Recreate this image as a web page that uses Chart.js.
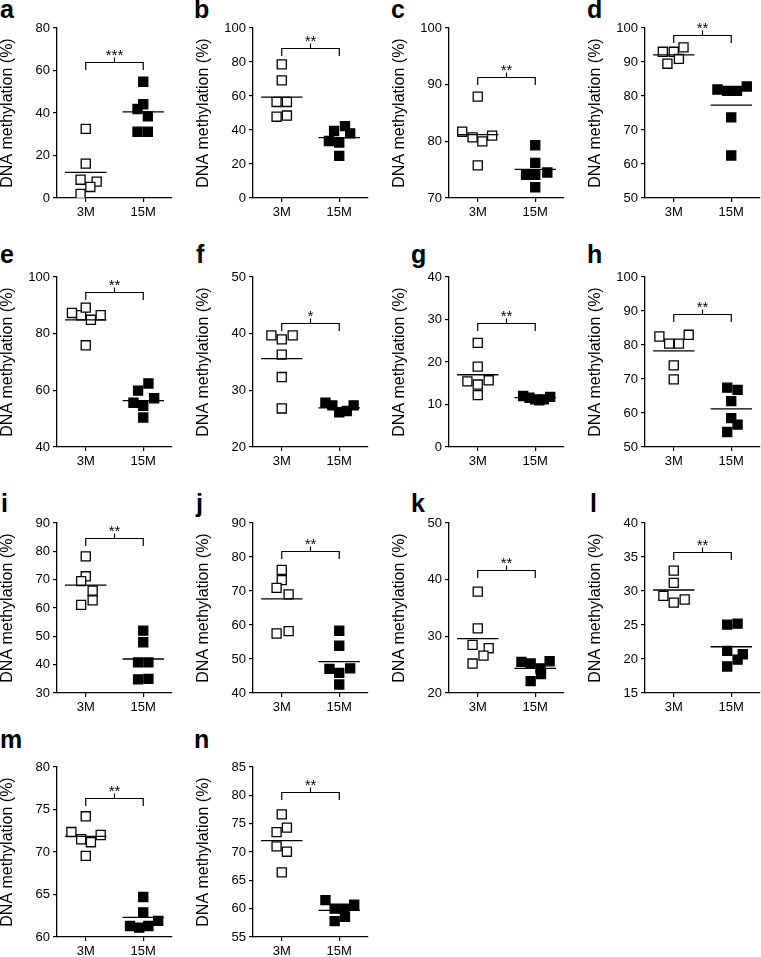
<!DOCTYPE html>
<html>
<head>
<meta charset="utf-8">
<script src="https://cdn.jsdelivr.net/npm/chart.js@4.4.1/dist/chart.umd.min.js"></script>
<style>
  body { margin: 0; background: #fff; width: 761px; height: 957px; overflow: hidden; position: relative; font-family: "Liberation Sans", Arial, sans-serif; }
  canvas { position: absolute; }
  .letter { position: absolute; font-weight: bold; font-size: 25px; line-height: 1; color: #000; }
</style>
</head>
<body>
<script>
// groups on the x axis
const groups = ['3M', '15M'];
const letters = ['a', 'b', 'c', 'd', 'e', 'f', 'g', 'h', 'i', 'j', 'k', 'l', 'm', 'n'];

// y axis ranges per panel
const yMin  = [0, 0, 70, 50, 40, 20, 0, 50, 30, 40, 20, 15, 60, 55];
const yMax  = [80, 100, 100, 100, 100, 50, 40, 100, 90, 90, 50, 40, 80, 85];
const yStep = [20, 20, 10, 10, 20, 10, 10, 10, 10, 10, 10, 5, 5, 5];

// significance bracket level and stars
const sigLevel = [64, 88.1, 91.4, 98, 94.8, 41.8, 29.25, 89, 84.7, 81.7, 41.7, 35.8, 76.3, 80.6];
const sigStars = ['***', '**', '**', '**', '**', '*', '**', '**', '**', '**', '**', '**', '**', '**'];

// group means (horizontal bars)
const mean3M  = [12.1, 59.3, 81.2, 92.1, 84.9, 35.6, 17.0, 78.3, 68.1, 67.7, 29.6, 30.15, 71.85, 72.0];
const mean15M = [40.5, 35.5, 75.05, 77.3, 56.4, 26.9, 11.6, 61.2, 42.0, 49.2, 24.35, 21.8, 62.3, 59.7];

// individual values (DNA methylation %)
const a3M = [32.5, 16.2, 8.6, 7.7, 5.2, 1.9];
const a15M = [54.7, 44.1, 41.9, 38.4, 31.2, 31.2];
const b3M = [78.6, 69.2, 56.5, 56.5, 47.8, 48.5];
const b15M = [39.4, 42.3, 38, 33.5, 32.6, 24.8];
const c3M = [87.9, 81.7, 80.7, 80.0, 81.0, 75.75];
const c15M = [79.3, 76.2, 74.1, 74.1, 74.5, 71.9];
const d3M = [93.0, 93.0, 94.3, 89.5, 90.9];
const d15M = [81.9, 81.5, 81.5, 82.8, 73.7, 62.5];
const e3M = [87.3, 86.5, 89.2, 84.9, 86.5, 75.9];
const e15M = [62.4, 59.9, 57.2, 55.6, 54.5, 50.4];
const f3M = [39.7, 39.0, 39.7, 36.3, 32.35, 26.8];
const f15M = [27.8, 27.35, 26.1, 26.35, 27.35];
const g3M = [24.5, 18.9, 15.45, 15.7, 14.7, 12.2];
const g15M = [12.0, 11.6, 11.2, 11.0, 11.2, 11.8];
const h3M = [82.5, 80.4, 80.4, 83.0, 74.0, 69.9];
const h15M = [67.45, 66.8, 63.5, 58.5, 56.6, 54.4];
const i3M = [78.2, 71.2, 69.5, 66.1, 62.7, 61.1];
const i15M = [52.0, 47.9, 40.8, 40.8, 34.8, 35.0];
const j3M = [76.2, 73.2, 70.9, 69.0, 57.5, 58.2];
const j15M = [58.3, 53.9, 47.1, 47.25, 45.9, 42.5];
const k3M = [37.9, 31.4, 28.5, 27.9, 26.6, 25.2];
const k15M = [25.5, 25.2, 25.6, 24.35, 23.35, 22.1];
const l3M = [33.0, 31.2, 29.3, 28.3, 28.75];
const l15M = [25.05, 25.2, 21.2, 20.7, 19.9, 18.9];
const m3M = [74.2, 72.35, 71.5, 71.15, 72.0, 69.55];
const m15M = [64.7, 62.9, 61.3, 61.1, 61.3, 61.9];
const n3M = [76.65, 73.5, 74.3, 71.0, 70.05, 66.4];
const n15M = [61.5, 60.0, 60.0, 60.7, 57.8, 58.55];

// horizontal scatter of the dots around each group (x units)
const a3Mj = [0, 0, -0.09, 0.19, 0.08, -0.09],   a15Mj = [0, 0, -0.1, 0.08, -0.1, 0.08];
const b3Mj = [0, 0, -0.09, 0.09, -0.09, 0.09],   b15Mj = [-0.09, 0.1, 0.19, -0.18, 0, 0];
const c3Mj = [0, -0.27, -0.09, 0.08, 0.25, 0],   c15Mj = [0, 0, -0.16, 0, 0.21, 0];
const d3Mj = [-0.19, 0, 0.17, -0.11, 0.09],      d15Mj = [-0.24, -0.07, 0.1, 0.27, 0, 0];
const e3Mj = [-0.24, -0.08, 0, 0.09, 0.26, 0],   e15Mj = [0.09, -0.09, 0.19, -0.17, 0, 0];
const f3Mj = [-0.18, 0, 0.19, 0, 0, 0],          f15Mj = [-0.24, -0.12, 0, 0.13, 0.25];
const g3Mj = [0, 0, -0.18, 0.19, 0, 0],          g15Mj = [-0.21, -0.1, 0, 0.07, 0.15, 0.26];
const h3Mj = [-0.25, -0.08, 0.09, 0.26, 0, 0],   h15Mj = [-0.07, 0.11, 0, 0, 0.11, -0.07];
const i3Mj = [0, 0, -0.08, 0.12, 0.12, -0.08],   i15Mj = [0, 0, -0.09, 0.09, -0.09, 0.09];
const j3Mj = [0, 0, -0.09, 0.12, -0.09, 0.12],   j15Mj = [0, 0, -0.17, 0.19, 0, 0];
const k3Mj = [0, 0, -0.09, 0.19, 0.1, -0.09],    k15Mj = [-0.24, -0.08, 0.25, 0.09, 0.1, -0.08];
const l3Mj = [0, 0, -0.18, 0, 0.19],             l15Mj = [-0.07, 0.11, -0.07, 0.2, 0.11, -0.07];
const m3Mj = [0, -0.25, -0.08, 0.09, 0.26, 0],   m15Mj = [0, 0, -0.23, -0.07, 0.09, 0.26];
const n3Mj = [0, -0.09, 0.09, -0.09, 0.09, 0],   n15Mj = [-0.24, -0.08, 0.09, 0.26, -0.08, 0.1];

const vals3M = [a3M, b3M, c3M, d3M, e3M, f3M, g3M, h3M, i3M, j3M, k3M, l3M, m3M, n3M];
const vals15M = [a15M, b15M, c15M, d15M, e15M, f15M, g15M, h15M, i15M, j15M, k15M, l15M, m15M, n15M];
const jit3M = [a3Mj, b3Mj, c3Mj, d3Mj, e3Mj, f3Mj, g3Mj, h3Mj, i3Mj, j3Mj, k3Mj, l3Mj, m3Mj, n3Mj];
const jit15M = [a15Mj, b15Mj, c15Mj, d15Mj, e15Mj, f15Mj, g15Mj, h15Mj, i15Mj, j15Mj, k15Mj, l15Mj, m15Mj, n15Mj];

// page layout
const colLeft = [0, 196, 392, 588];
const rowTop = [0, 249, 495, 739];
const letterPos = [[0, -3], [194, -3], [391, -3], [587, -3],
                   [0, 242], [196, 242], [411, 242], [587, 242],
                   [1, 491], [196, 491], [411, 491], [590, 491],
                   [0, 727], [194, 727], [411, 727], [590, 727]];

Chart.defaults.font.family = '"Liberation Sans", Arial, sans-serif';
Chart.defaults.font.size = 13;
Chart.defaults.color = '#000';

const bracketPlugin = {
  id: 'bracket',
  afterDatasetsDraw(chart, args, opts) {
    const ctx = chart.ctx, x = chart.scales.x, y = chart.scales.y;
    const x1 = x.getPixelForValue(0.5), x2 = x.getPixelForValue(1.5);
    const xm = (x1 + x2) / 2;
    const yy = Math.round(y.getPixelForValue(opts.level)) + 0.5;
    ctx.save();
    ctx.strokeStyle = '#000';
    ctx.lineWidth = 1.2;
    ctx.beginPath();
    ctx.moveTo(x1, yy + 7.5);
    ctx.lineTo(x1, yy);
    ctx.lineTo(x2, yy);
    ctx.lineTo(x2, yy + 7.5);
    ctx.moveTo(xm, yy);
    ctx.lineTo(xm, yy - 5);
    ctx.stroke();
    ctx.fillStyle = '#000';
    ctx.font = '15px "Liberation Sans", Arial, sans-serif';
    ctx.textAlign = 'center';
    ctx.textBaseline = 'alphabetic';
    ctx.fillText(opts.stars, xm, yy - 3);
    ctx.restore();
  }
};

function meanLine(center, m) {
  return [{ x: center - 0.36, y: m }, { x: center + 0.36, y: m }];
}

letters.forEach((L, p) => {
  const col = p % 4, row = Math.floor(p / 4);
  const lab = document.createElement('div');
  lab.className = 'letter';
  lab.textContent = L;
  lab.style.left = letterPos[p][0] + 'px';
  lab.style.top = letterPos[p][1] + 'px';
  document.body.appendChild(lab);

  const cv = document.createElement('canvas');
  cv.width = 180;
  cv.height = 225;
  cv.style.left = colLeft[col] + 'px';
  cv.style.top = rowTop[row] + 'px';
  document.body.appendChild(cv);

  const pts3 = vals3M[p].map((v, k) => ({ x: 0.5 + jit3M[p][k], y: v }));
  const pts15 = vals15M[p].map((v, k) => ({ x: 1.5 + jit15M[p][k], y: v }));

  new Chart(cv, {
    type: 'scatter',
    data: {
      datasets: [
        { data: meanLine(0.5, mean3M[p]), showLine: true, borderColor: '#000', borderWidth: 1.3, pointRadius: 0 },
        { data: meanLine(1.5, mean15M[p]), showLine: true, borderColor: '#000', borderWidth: 1.3, pointRadius: 0 },
        { data: pts3, pointStyle: 'rect', pointRadius: 6.4, backgroundColor: '#fff', borderColor: '#000', borderWidth: 1.3 },
        { data: pts15, pointStyle: 'rect', pointRadius: 6.4, backgroundColor: '#000', borderColor: '#000', borderWidth: 1.3 }
      ]
    },
    options: {
      responsive: false,
      animation: false,
      events: [],
      layout: { padding: { top: 28, left: 0, right: 8, bottom: 0 } },
      plugins: {
        legend: { display: false },
        tooltip: { enabled: false },
        bracket: { level: sigLevel[p], stars: sigStars[p] }
      },
      scales: {
        x: {
          type: 'linear', min: 0, max: 2,
          afterBuildTicks: s => { s.ticks = [{ value: 0.5 }, { value: 1.5 }]; },
          afterFit: s => { s.height = 27; },
          ticks: { callback: v => groups[Math.round(v - 0.5)], padding: 3, color: '#000', maxRotation: 0 },
          grid: { drawOnChartArea: false, tickLength: 4, color: '#000', lineWidth: 1.2 },
          border: { color: '#000', width: 1.3 }
        },
        y: {
          min: yMin[p], max: yMax[p],
          afterFit: s => { s.width = 57; },
          ticks: { stepSize: yStep[p], padding: 3, color: '#000' },
          grid: { drawOnChartArea: false, tickLength: 4, color: '#000', lineWidth: 1.2 },
          border: { color: '#000', width: 1.3 },
          title: { display: true, text: 'DNA methylation (%)', color: '#000', padding: 0, font: { size: 16, lineHeight: 1 } }
        }
      }
    },
    plugins: [bracketPlugin]
  });
});
</script>
</body>
</html>
